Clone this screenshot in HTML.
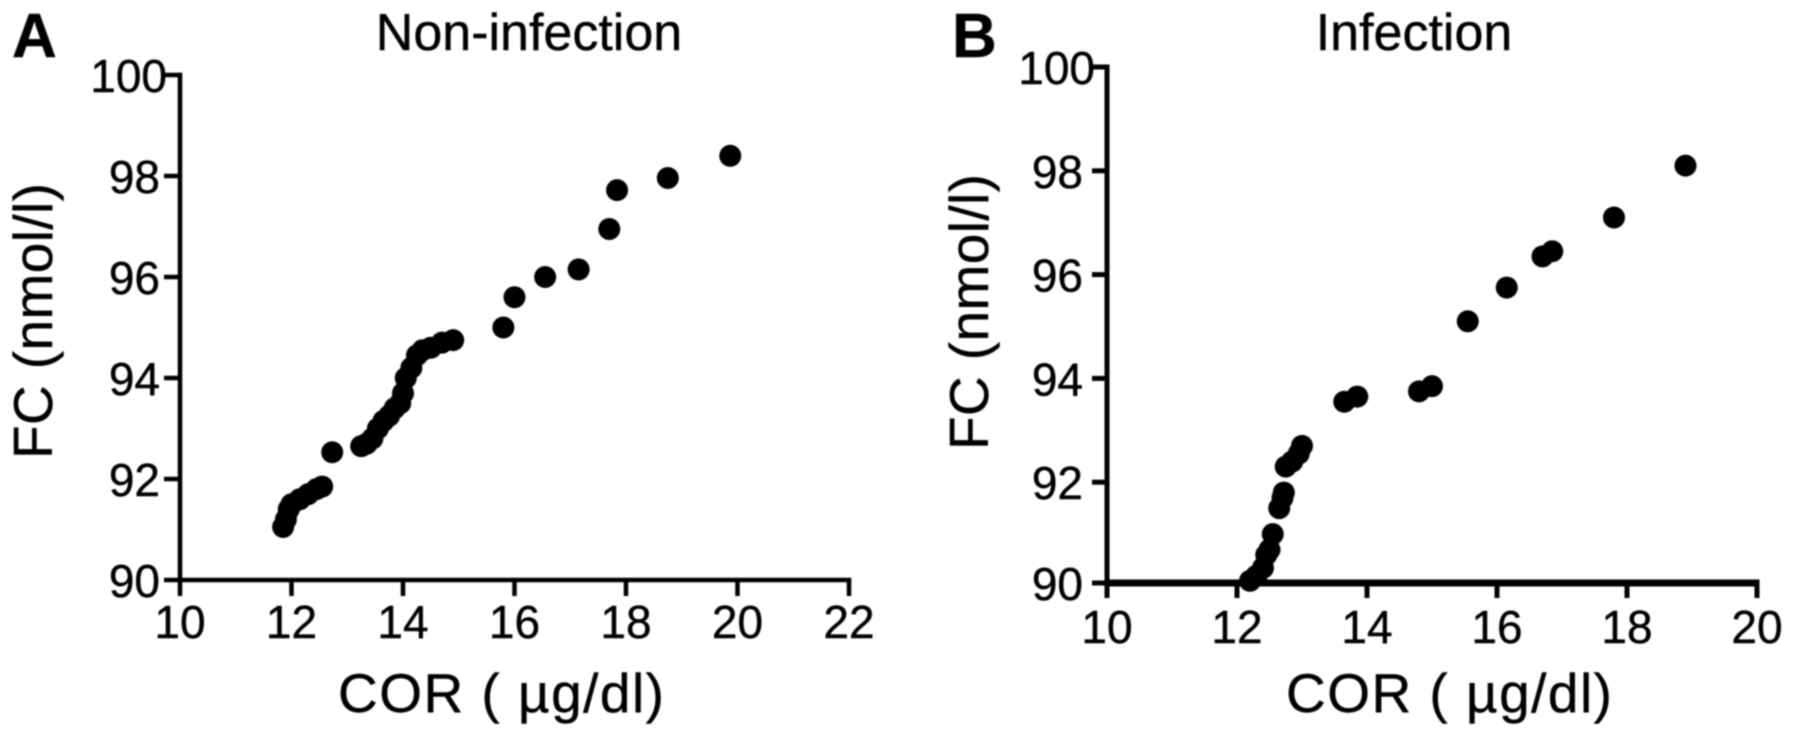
<!DOCTYPE html>
<html lang="en">
<head>
<meta charset="utf-8">
<title>FC vs COR scatter plots</title>
<style>
html,body{margin:0;padding:0;background:#fff;}
body{width:1795px;height:738px;overflow:hidden;}
svg{display:block;filter:blur(0.8px);}
text{font-family:"Liberation Sans",Arial,sans-serif;fill:#000;stroke:#000;stroke-width:0.4px;}
</style>
</head>
<body>
<svg id="chart" xmlns="http://www.w3.org/2000/svg" width="1795" height="738" viewBox="0 0 1795 738">
  <rect width="1795" height="738" fill="#fff"/>
  <g id="panel-a">
    <text x="12" y="57" font-size="62" font-weight="bold">A</text>
    <text x="529" y="50" font-size="52" text-anchor="middle">Non-infection</text>
    <text x="501" y="712" font-size="55" text-anchor="middle" textLength="326">COR ( µg/dl)</text>
    <text transform="translate(52,321) rotate(-90)" font-size="55" text-anchor="middle" textLength="276">FC (nmol/l)</text>
  </g>
  <g id="panel-b">
    <text x="952" y="57" font-size="62" font-weight="bold">B</text>
    <text x="1414" y="50" font-size="52" text-anchor="middle">Infection</text>
    <text x="1449" y="712" font-size="55" text-anchor="middle" textLength="326">COR ( µg/dl)</text>
    <text transform="translate(988,312) rotate(-90)" font-size="55" text-anchor="middle" textLength="276">FC (nmol/l)</text>
  </g>
</svg>
<script>
const xTicksA = [10, 12, 14, 16, 18, 20, 22];
const yTicksA = [90, 92, 94, 96, 98, 100];
const corA = [11.85, 11.9, 11.95, 12.0, 12.15, 12.3, 12.45, 12.55, 12.73, 13.25, 13.35, 13.45, 13.55, 13.65, 13.75, 13.85, 13.95, 14.0, 14.05, 14.15, 14.25, 14.35, 14.5, 14.7, 14.9, 15.8, 16.0, 16.55, 17.15, 17.7, 17.84, 18.75, 19.87];
const fcA = [91.05, 91.2, 91.4, 91.5, 91.6, 91.7, 91.8, 91.85, 92.53, 92.65, 92.7, 92.8, 93.0, 93.15, 93.25, 93.4, 93.5, 93.7, 94.0, 94.2, 94.45, 94.55, 94.6, 94.7, 94.75, 95.0, 95.6, 96.0, 96.15, 96.95, 97.72, 97.96, 98.4];

const xTicksB = [10, 12, 14, 16, 18, 20];
const yTicksB = [90, 92, 94, 96, 98, 100];
const corB = [12.2, 12.3, 12.4, 12.45, 12.5, 12.55, 12.65, 12.7, 12.72, 12.75, 12.85, 12.95, 13.0, 13.65, 13.85, 14.8, 15.0, 15.55, 16.15, 16.7, 16.85, 17.8, 18.9];
const fcB = [90.1, 90.2, 90.35, 90.6, 90.7, 91.0, 91.5, 91.7, 91.8, 92.3, 92.4, 92.55, 92.7, 93.55, 93.65, 93.75, 93.85, 95.1, 95.75, 96.35, 96.45, 97.1, 98.1];

const NS = 'http://www.w3.org/2000/svg';

function make(parent, tag, attrs, text) {
  const el = document.createElementNS(NS, tag);
  for (const k in attrs) el.setAttribute(k, attrs[k]);
  if (text !== undefined) el.textContent = text;
  parent.appendChild(el);
  return el;
}

function drawPanel(parentId, prefix, g, xTicks, yTicks, xs, ys) {
  const parent = document.getElementById(parentId);
  const xMin = xTicks[0], xMax = xTicks[xTicks.length - 1];
  const yMin = yTicks[0], yMax = yTicks[yTicks.length - 1];
  const sx = v => g.x0 + (v - xMin) / (xMax - xMin) * (g.x1 - g.x0);
  const sy = v => g.y0 - (v - yMin) / (yMax - yMin) * (g.y0 - g.y1);

  const yAxis = make(parent, 'line', {x1: sx(xMin), x2: sx(xMin), y1: sy(yMax) - g.yw / 2, y2: g.axisY, stroke: '#000', 'stroke-width': g.yw});
  
  

  const xAxis = make(parent, 'line', {x1: sx(xMin), x2: sx(xMax) + g.yw / 2, y1: g.axisY, y2: g.axisY, stroke: '#000', 'stroke-width': g.xw});
  
  

  xTicks.forEach(t => {
    const tick = make(parent, 'line', {x1: sx(t), x2: sx(t), y1: g.axisY, y2: g.axisY + g.tick, stroke: '#000', 'stroke-width': g.yw});
    
    
    const label = make(parent, 'text', {x: sx(t), y: g.xLabelY, 'font-size': g.tickFont, 'text-anchor': 'middle'}, String(t));
    
    
  });

  yTicks.forEach(t => {
    const tickY = t === yMin ? g.axisY : sy(t);
    const tick = make(parent, 'line', {x1: sx(xMin) - g.tick, x2: sx(xMin), y1: tickY, y2: tickY, stroke: '#000', 'stroke-width': g.yw});
    
    
    const right = t >= 100 ? g.yLabelRightWide : g.yLabelRight;
    const label = make(parent, 'text', {x: right, y: tickY + 17, 'font-size': g.tickFont, 'text-anchor': 'end'}, String(t));
    
    
  });

  xs.forEach((v, i) => {
    const pt = make(parent, 'circle', {cx: sx(v), cy: sy(ys[i]), r: g.r, fill: '#000'});
    
    
  });
}

drawPanel('panel-a', 'panel-a',
  {x0: 180, x1: 849, y0: 580, y1: 75, axisY: 580, xw: 4.5, yw: 4.5, tick: 16, r: 11, tickFont: 46, xLabelY: 638, yLabelRight: 160, yLabelRightWide: 167},
  xTicksA, yTicksA, corA, fcA);
drawPanel('panel-b', 'panel-b',
  {x0: 1107, x1: 1757, y0: 586, y1: 67, axisY: 583, xw: 7, yw: 5, tick: 15, r: 11, tickFont: 46, xLabelY: 643, yLabelRight: 1083, yLabelRightWide: 1095},
  xTicksB, yTicksB, corB, fcB);
</script>
</body>
</html>
